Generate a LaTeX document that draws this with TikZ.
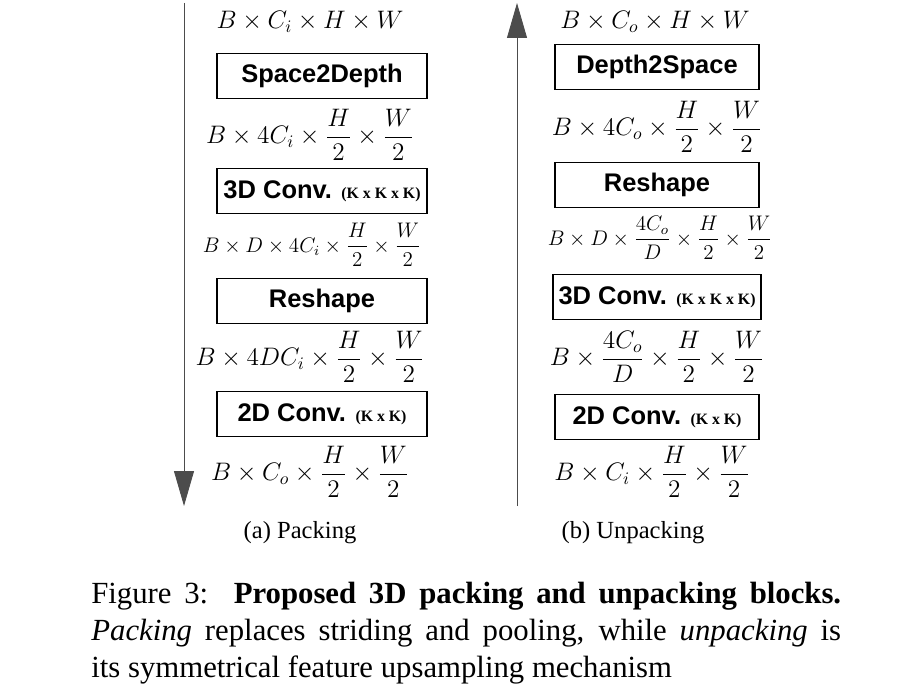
\documentclass[tikz,border=0pt]{standalone}
\usepackage{amsmath}
\usepackage{fontspec}
\setmainfont{Liberation Serif}
\newfontfamily\boxfont{Liberation Sans}
\usetikzlibrary{arrows.meta}
\newcommand\kernsz[1]{{\rmfamily\bfseries\fontsize{9}{10}\selectfont(#1)}}

\begin{document}
\begin{tikzpicture}[x=0.02cm, y=-0.02cm,
block/.style={draw=black, line width=1.1pt, minimum width=4.2cm, minimum height=0.9cm, font=\boxfont\bfseries\fontsize{14.5}{16}\selectfont},
dims/.style={font=\fontsize{14}{16}\selectfont},
small/.style={font=\fontsize{11.5}{13}\selectfont},
flow/.style={line width=0.5pt, draw=black!70, -{Triangle[length=7mm, width=4mm]}},
]
\useasboundingbox (0,0) rectangle (912,696);

% packing
\node[dims] (p0) at (310,22) {$B\times C_i\times H\times W$};
\node[block] (s2d) at (322,76) {Space2Depth};
\node[dims] (p1) at (310,135) {$B\times 4C_i\times\dfrac{H}{2}\times\dfrac{W}{2}$};
\node[block] (pconv3) at (322,191) {3D Conv. \kernsz{K x K x K}};
\node[small] (p2) at (312,245) {$B\times D\times 4C_i\times\dfrac{H}{2}\times\dfrac{W}{2}$};
\node[block] (preshape) at (322,301) {Reshape};
\node[dims] (p3) at (310,357) {$B\times 4DC_i\times\dfrac{H}{2}\times\dfrac{W}{2}$};
\node[block] (pconv2) at (322,414) {2D Conv. \kernsz{K x K}};
\node[dims] (p4) at (310,472) {$B\times C_o\times\dfrac{H}{2}\times\dfrac{W}{2}$};
\coordinate (ptop) at (184,3);
\coordinate (pbot) at (184,506);
\draw[flow] (ptop) -- (pbot);
\node (pcap) at (300,533) {\fontsize{14}{16}\selectfont (a) Packing};

% unpacking
\node[dims] (u0) at (655,22) {$B\times C_o\times H\times W$};
\node[block, minimum width=4.08cm] (d2s) at (657,67) {Depth2Space};
\node[dims] (u1) at (657,127) {$B\times 4C_o\times\dfrac{H}{2}\times\dfrac{W}{2}$};
\node[block, minimum width=4.08cm] (ureshape) at (657,185) {Reshape};
\node[small] (u2) at (660,238) {$B\times D\times\dfrac{4C_o}{D}\times\dfrac{H}{2}\times\dfrac{W}{2}$};
\node[block, minimum width=4.08cm] (uconv3) at (657,297) {3D Conv. \kernsz{K x K x K}};
\node[dims] (u3) at (657,357) {$B\times\dfrac{4C_o}{D}\times\dfrac{H}{2}\times\dfrac{W}{2}$};
\node[block, minimum width=4.08cm] (uconv2) at (657,417) {2D Conv. \kernsz{K x K}};
\node[dims] (u4) at (652,472) {$B\times C_i\times\dfrac{H}{2}\times\dfrac{W}{2}$};
\coordinate (ubot) at (517,506);
\coordinate (utop) at (517,3);
\draw[flow] (ubot) -- (utop);
\node (ucap) at (633,533) {\fontsize{14}{16}\selectfont (b) Unpacking};

% caption
\node[anchor=north west, inner sep=0pt, text width=15cm, align=justify,
  font=\fontsize{17.5}{21}\selectfont] (caption) at (91,582)
  {Figure 3:\ \ \textbf{Proposed 3D packing and unpacking blocks.}\linebreak
   \textit{Packing} replaces striding and pooling, while \textit{unpacking} is\linebreak
   its symmetrical feature upsampling mechanism\hfill\null};
\end{tikzpicture}
\end{document}
